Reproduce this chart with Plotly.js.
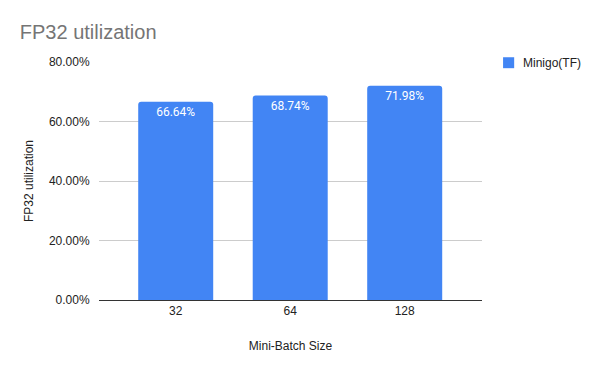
<!DOCTYPE html>
<html><head><meta charset="utf-8">
<script src="https://cdn.plot.ly/plotly-3.0.1.min.js"></script>
<style>html,body{margin:0;padding:0;background:#fff}#c{width:600px;height:371px}</style>
</head><body><div id="c"></div>
<script>
const categories = ['32', '64', '128'];
const values = [0.6664, 0.6874, 0.7198];
const labels = ['66.64%', '68.74%', '71.98%'];
const seriesName = 'Minigo(TF)';
const barColor = '#4285f4';

const trace = {
  type: 'bar', x: categories, y: values, name: seriesName,
  text: labels, textposition: 'inside', insidetextanchor: 'end',
  textangle: 0,
  textfont: {family: 'Roboto, Arial, sans-serif', size: 12, color: '#ffffff'},
  marker: {color: barColor, cornerradius: 3},
  hoverinfo: 'none'
};
const layout = {
  width: 600, height: 371,
  margin: {l: 99, r: 118, t: 62, b: 71, autoexpand: false},
  paper_bgcolor: '#fff', plot_bgcolor: '#fff',
  font: {family: 'Arial, "Liberation Sans", sans-serif', color: '#222', size: 12},
  title: {text: 'FP32 utilization', x: 0.033, xref: 'container', xanchor: 'left',
          y: 0.915, yref: 'container', yanchor: 'middle',
          font: {size: 20, color: '#757575'}},
  bargap: 0.345,
  xaxis: {type: 'category', range: [-0.67, 2.675], showgrid: false, automargin: false,
          showline: true, linecolor: '#333', linewidth: 1, ticks: '', ticklen: 0,
          title: {text: 'Mini-Batch Size', font: {size: 12, color: '#222'}, standoff: 24},
          tickfont: {size: 12, color: '#222'}},
  yaxis: {range: [0, 0.8], tickvals: [0, 0.2, 0.4, 0.6, 0.8], tickformat: '.2%', automargin: false,
          gridcolor: '#cccccc', zeroline: false, showline: false,
          ticks: 'outside', ticklen: 6, tickcolor: 'rgba(0,0,0,0)',
          title: {text: 'FP32 utilization', font: {size: 12, color: '#222'}, standoff: 12},
          tickfont: {size: 12, color: '#222'}},
  showlegend: false,
  shapes: [{type: 'rect', xref: 'paper', yref: 'paper',
            x0: 1.055, x1: 1.084, y0: 1.02, y1: 0.974,
            fillcolor: barColor, line: {width: 0}}],
  annotations: [{text: seriesName, xref: 'paper', yref: 'paper', x: 1.102, y: 0.997,
                 xanchor: 'left', yanchor: 'middle', showarrow: false,
                 font: {size: 12, color: '#222'}}]
};
Plotly.newPlot('c', [trace], layout, {staticPlot: true});
</script></body></html>
